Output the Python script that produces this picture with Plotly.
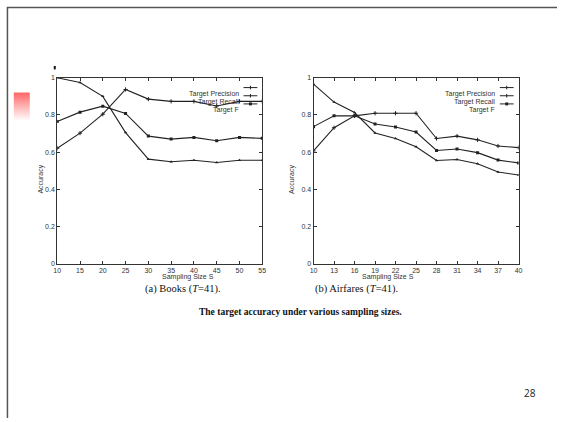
import plotly.graph_objects as go

W, H = 561, 422

# ---- data ----
books_x = [10, 15, 20, 25, 30, 35, 40, 45, 50, 55]
books_precision = [1.00, 0.975, 0.90, 0.705, 0.562, 0.548, 0.556, 0.544, 0.556, 0.556]
books_recall = [0.621, 0.702, 0.804, 0.937, 0.885, 0.873, 0.873, 0.848, 0.873, 0.873]
books_f = [0.765, 0.815, 0.847, 0.808, 0.686, 0.670, 0.679, 0.661, 0.679, 0.674]

air_x = [10, 13, 16, 19, 22, 25, 28, 31, 34, 37, 40]
air_precision = [0.966, 0.869, 0.813, 0.703, 0.673, 0.629, 0.555, 0.560, 0.537, 0.493, 0.477]
air_recall = [0.606, 0.731, 0.795, 0.809, 0.809, 0.809, 0.673, 0.686, 0.666, 0.633, 0.624]
air_f = [0.737, 0.795, 0.795, 0.751, 0.735, 0.708, 0.609, 0.617, 0.597, 0.557, 0.542]

y_ticks = [0, 0.2, 0.4, 0.6, 0.8, 1]
series_names = ["Target Precision", "Target Recall", "Target F"]
captions = ["(a) Books (<i>T</i>=41).", "(b) Airfares (<i>T</i>=41)."]
title_text = "<b>The target accuracy under various sampling sizes.</b>"
page_no = "28"


def px(x):
    return x / W


def py(y):
    return 1 - y / H


line_col = "#222222"
styles = [
    dict(symbol="triangle-up", size=3),
    dict(symbol="cross-thin", size=3, line=dict(width=1, color=line_col)),
    dict(symbol="square", size=3),
]

fig = go.Figure()

panels = [
    ("x", "y", books_x, [books_precision, books_recall, books_f]),
    ("x2", "y2", air_x, [air_precision, air_recall, air_f]),
]
for xa, ya, xs, ys_list in panels:
    for name, ys, st in zip(series_names, ys_list, styles):
        fig.add_trace(go.Scatter(
            x=xs, y=ys, mode="lines+markers", name=name, showlegend=False,
            xaxis=xa, yaxis=ya,
            line=dict(color=line_col, width=1.1),
            marker=dict(color=line_col, **st),
        ))

tickfont = dict(family="Liberation Sans, Arial", size=7, color="#333")
axis_common = dict(
    showgrid=False, zeroline=False, showline=True, linecolor="#333",
    linewidth=1, mirror="ticks", ticks="inside", ticklen=3,
    tickcolor="#333", tickfont=tickfont,
)

left_dom = [px(54), px(262)]
right_dom = [px(314), px(522)]
y_dom = [py(264), py(75)]

fig.update_layout(
    width=W, height=H,
    margin=dict(l=0, r=0, t=0, b=0),
    paper_bgcolor="white", plot_bgcolor="white",
    xaxis=dict(domain=left_dom, range=[10, 55], tickvals=books_x, anchor="y", **axis_common),
    yaxis=dict(domain=y_dom, range=[0, 1], tickvals=y_ticks, anchor="x", **axis_common),
    xaxis2=dict(domain=right_dom, range=[10, 40], tickvals=air_x, anchor="y2", **axis_common),
    yaxis2=dict(domain=y_dom, range=[0, 1], tickvals=y_ticks, anchor="x2", **axis_common),
)

ann = []
shapes = []
small = dict(family="Liberation Sans, Arial", size=7, color="#333")

for idx, ((xl, xr), cap_x) in enumerate([((54, 262), 141), ((314, 522), 402)]):
    # axis titles
    ann.append(dict(x=px(xl - 22), y=py(178), xref="paper", yref="paper",
                    text="Accuracy", textangle=-90, showarrow=False, font=small))
    ann.append(dict(x=px((xl + xr) / 2), y=py(277.5), xref="paper", yref="paper",
                    text="Sampling Size S", showarrow=False, font=small))
    # caption
    ann.append(dict(x=px(cap_x), y=py(298), xref="paper", yref="paper",
                    text=captions[idx], showarrow=False,
                    font=dict(family="Liberation Serif, Times New Roman", size=10.5, color="#111")))
    # legend
    for i, name in enumerate(series_names):
        yy = 85 + 8.3 * i
        ann.append(dict(x=px(xr - 22), y=py(yy), xref="paper", yref="paper",
                        xanchor="right", text=name, showarrow=False, font=small))
        shapes.append(dict(type="line", xref="paper", yref="paper",
                           x0=px(xr - 19), x1=px(xr - 5), y0=py(yy), y1=py(yy),
                           line=dict(color=line_col, width=1)))
        mx = xr - 12
        if i == 2:
            shapes.append(dict(type="rect", xref="paper", yref="paper",
                               x0=px(mx - 1.5), x1=px(mx + 1.5), y0=py(yy - 1.5), y1=py(yy + 1.5),
                               fillcolor=line_col, line=dict(width=0)))
        else:
            shapes.append(dict(type="line", xref="paper", yref="paper",
                               x0=px(mx), x1=px(mx), y0=py(yy - 1.8), y1=py(yy + 1.8),
                               line=dict(color=line_col, width=1)))

ann.append(dict(x=px(301), y=py(320), xref="paper", yref="paper", text=title_text,
                showarrow=False, font=dict(family="Liberation Serif, Times New Roman", size=9.5, color="#111")))
ann.append(dict(x=px(542), y=py(405), xref="paper", yref="paper", text=page_no,
                showarrow=False, font=dict(family="Open Sans, Liberation Sans", size=10, color="#222")))

# slide frame lines
shapes.append(dict(type="line", xref="paper", yref="paper", x0=px(3.5), x1=px(3.5),
                   y0=py(3), y1=py(421), line=dict(color="#555", width=1.5)))
shapes.append(dict(type="line", xref="paper", yref="paper", x0=px(3), x1=1,
                   y0=py(3.5), y1=py(3.5), line=dict(color="#555", width=1.5)))
# small black mark
shapes.append(dict(type="rect", xref="paper", yref="paper", x0=px(50.5), x1=px(52.5),
                   y0=py(63), y1=py(66.5), fillcolor="#111", line=dict(width=0)))
# red gradient block
n = 28
for k in range(n):
    t = k / (n - 1)
    g = int(105 + (248 - 105) * t)
    col = f"rgb(255,{g},{g})"
    y0 = 90 + 28 * k / n
    y1 = 90 + 28 * (k + 1.6) / n
    shapes.append(dict(type="rect", xref="paper", yref="paper", x0=px(10), x1=px(26),
                       y0=py(min(y1, 118)), y1=py(y0), fillcolor=col, line=dict(width=0)))

fig.update_layout(annotations=ann, shapes=shapes)
fig.write_html(
    "out.html",
    config={"displayModeBar": False},
    post_script="document.body.style.margin='0';document.body.style.overflow='hidden';",
)
